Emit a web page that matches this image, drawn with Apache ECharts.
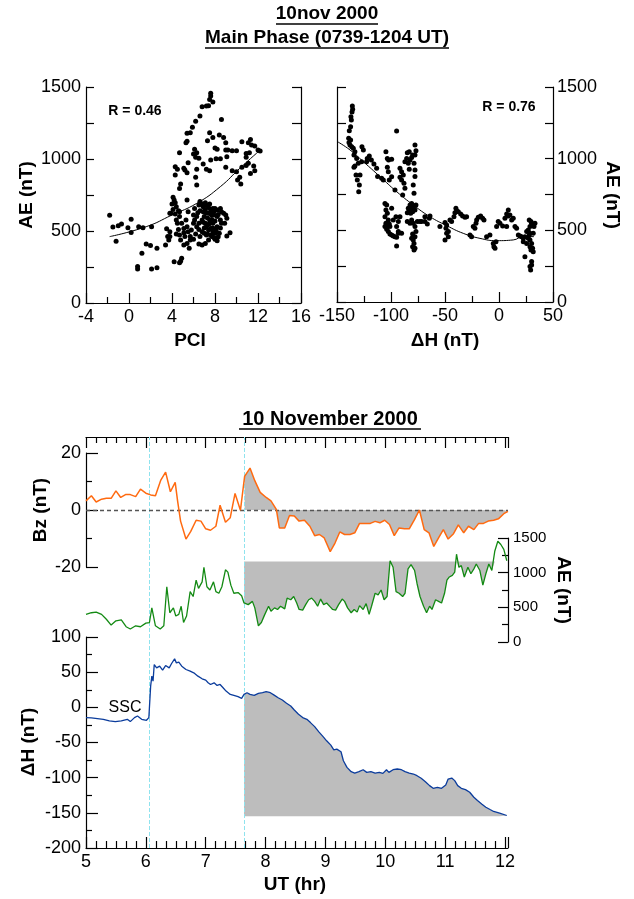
<!DOCTYPE html>
<html>
<head>
<meta charset="utf-8">
<script src="https://cdn.jsdelivr.net/npm/echarts@6/dist/echarts.min.js"></script>
<style>
  html, body { margin: 0; padding: 0; background: #fff; }
  #main { width: 634px; height: 899px; }
</style>
</head>
<body>
<div id="main"></div>
<script>
// AE vs PCI, main phase (PCI, AE nT)
var pciAE = [
  [-1.8,609],[-1.5,528],[-1.2,428],[-1.0,537],[-0.7,549],[-0.1,523],[0.2,581],[0.2,489],[0.9,530],[1.3,523],
  [2.1,530],[1.6,410],[2.0,400],[1.2,345],[2.6,380],[0.8,253],[0.8,236],[2.1,236],[2.6,245],[3.6,461],
  [3.5,516],[3.8,623],[4.2,287],[4.7,280],[4.9,310],[4.8,290],
  [7.6,1456],[7.6,1437],[7.8,1396],[7.5,1414],[7.2,1368],[7.4,1370],[6.8,1363],[6.6,1299],[6.2,1262],[5.9,1220],
  [5.7,1183],[5.4,1178],[5.3,1113],[5.4,1123],[4.7,1044],[4.3,947],[4.3,889],[4.5,928],[4.7,796],[4.8,826],
  [5.1,935],[5.2,924],[5.4,905],[5.5,974],[6.1,1067],[6.3,1044],[6.0,1035],[6.2,1012],[6.3,928],[6.2,873],
  [6.3,819],[6.5,1005],[6.9,965],[7.2,928],[7.5,919],[7.6,993],[7.3,1127],[7.5,1183],[7.8,1150],[8.0,1076],
  [8.2,1067],[8.1,1002],[8.5,1002],[8.6,1275],[8.4,1167],[8.8,1150],[9.0,1113],[9.0,1062],[9.1,1016],[9.2,1062],
  [9.6,1058],[10.0,1058],[9.0,942],[9.6,919],[10.0,912],[10.3,873],[10.4,826],[10.1,854],[10.5,942],[10.9,954],
  [11.1,970],[10.9,1012],[11.2,1044],[11.3,1136],[11.4,1097],[11.1,1113],[11.7,1090],[12.0,1062],[12.2,1055],[11.6,951],
  [11.3,900],[11.7,919],[10.9,1039],[10.5,1120],
  [4.1,734],[4.2,715],[4.0,687],[4.3,697],[4.4,669],[4.1,650],[4.6,641],[4.3,618],[3.9,623],[4.4,576],
  [4.5,553],[4.7,600],[4.9,553],[4.6,511],[4.4,479],[4.7,472],[5.1,488],[5.2,461],[4.8,437],[5.4,414],
  [5.6,380],[5.1,403],[5.7,461],[5.8,507],[5.4,530],[5.3,576],[5.5,634],[6.0,611],[6.1,657],[6.5,680],
  [6.6,704],[6.8,687],[6.9,669],[7.1,697],[7.2,680],[7.4,664],[7.5,687],[7.6,646],[7.8,657],[8.0,657],
  [8.2,646],[8.5,657],[8.6,634],[8.8,623],[9.0,611],[9.1,588],[8.9,553],[8.6,553],[8.5,576],[8.2,600],
  [7.9,611],[7.7,611],[7.4,623],[7.2,627],[6.9,634],[6.6,641],[6.4,627],[6.3,600],[6.1,576],[6.0,553],
  [6.3,530],[6.5,511],[6.8,495],[7.0,484],[7.2,472],[7.4,507],[7.6,518],[7.8,495],[8.0,484],[8.0,442],
  [8.2,433],[7.7,461],[7.4,437],[7.1,414],[6.8,403],[6.5,410],[6.6,461],[6.2,479],[6.0,442],[5.7,437],
  [5.5,495],[5.1,518],[4.7,634],[7.8,553],[8.2,530],[8.4,484],[7.5,576],[7.1,553],[6.8,576],[7.2,530],
  [7.5,553],[9.1,465],[9.4,488],[6.5,553],[5.4,715],[3.8,461],[3.7,437],[3.4,403],[3.8,495],
  [7.0,600],[7.3,590],[7.7,580],[8.0,570],[7.1,650],[7.6,620],[7.9,635],[8.3,615],[6.9,560],[7.4,545],
  [7.8,520],[8.1,505],[7.0,520],[7.3,480],[7.6,470],[7.9,455],[8.3,460],[8.5,520]
];
var pciFit = [[-1.8,461],[1.6,530],[4.0,611],[6.3,692],[8.5,808],[10.3,935],[12.2,1062]];

// AE vs dH, main phase (dH nT, AE nT)
var dhAE = [
  [-135.8,1368],[-135.5,1344],[-136.1,1326],[-137.1,1293],[-136.7,1270],[-137.4,1223],[-138.6,1195],[-139.2,1142],[-138.9,1112],[-137.4,1130],
  [-138.0,1095],[-136.4,1084],[-134.9,1072],[-133.4,1049],[-134.3,1026],[-131.8,1002],[-126.9,1084],[-125.6,1061],[-122.0,1002],[-120.1,1019],
  [-118.2,991],[-122.6,979],[-115.8,963],[-133.4,949],[-134.3,940],[-130.3,968],[-127.2,979],[-132.4,886],[-128.7,886],[-131.2,851],
  [-129.3,816],[-129.9,770],[-113.3,933],[-112.4,875],[-108.7,863],[-107.1,851],[-104.7,1049],[-103.4,1002],[-102.2,991],[-99.4,996],
  [-103.4,940],[-102.5,909],[-101.6,851],[-99.4,874],[-94.8,1193],[-96.3,782],[-91.7,933],[-90.2,909],[-88.6,886],[-91.7,870],
  [-90.2,851],[-88.0,828],[-87.1,793],[-89.2,747],[-87.1,979],[-85.5,1002],[-84.9,1042],[-83.1,1049],[-84.0,968],[-82.4,991],
  [-80.9,1009],[-80.0,1026],[-83.1,926],[-77.8,1096],[-76.9,1056],[-77.8,1026],[-78.7,968],[-77.8,921],[-77.8,875],[-79.4,816],
  [-78.7,758],[-76.9,677],
  [-82.4,677],[-80.9,665],[-84.0,654],[-79.4,654],[-83.1,637],[-80.0,630],[-81.8,619],[-84.9,623],[-77.8,642],[-80.9,688],
  [-81.5,645],[-79.0,670],
  [-80.9,572],[-79.4,549],[-77.8,526],[-76.9,491],[-80.0,475],[-77.8,456],[-79.4,433],[-78.7,409],[-80.0,386],[-77.8,375],
  [-78.7,363],[-80.9,444],[-82.4,549],[-84.9,561],[-75.6,561],[-73.2,561],[-71.6,561],
  [-105.6,688],[-104.0,677],[-104.7,642],[-103.4,619],[-105.6,595],[-102.5,572],[-104.7,549],[-103.4,537],[-101.6,544],[-105.6,526],
  [-104.0,507],[-102.5,491],[-101.0,475],[-99.4,468],[-97.9,461],[-96.3,456],[-94.8,451],[-93.2,479],[-94.8,526],[-95.4,595],
  [-93.2,491],[-99.4,654],[-93.2,561],[-91.7,595],[-90.2,479],[-94.8,391],[-101.0,526],[-97.9,572],
  [-68.6,595],[-64.5,584],[-63.9,600],[-66.4,544],[-68.6,561],[-54.7,526],[-50.0,554],[-48.5,537],[-49.1,514],[-46.9,456],
  [-50.0,433],[-45.4,572],[-43.9,561],[-41.7,595],[-40.8,623],[-39.2,637],[-39.9,654],[-37.7,630],[-35.5,614],[-33.7,600],
  [-31.5,591],[-30.0,595],[-46.9,491],[-48.5,479],
  [-26.9,468],[-25.4,456],[-23.8,526],[-22.3,514],[-21.3,549],[-20.7,572],[-19.2,591],[-17.0,600],[-15.2,584],[-13.9,572],
  [-11.5,456],[-8.4,468],[-5.3,409],[-4.7,386],[-3.7,375],[-2.8,421],[-2.2,526],[-0.7,561],[0.9,549],[3.4,530],
  [5.5,584],[7.1,614],[8.6,642],[10.1,607],[11.7,572],[13.2,584],[8.6,600],[7.1,526],[14.8,526],[16.3,514],
  [17.9,468],[19.4,461],[20.9,456],[22.5,444],[24.0,456],[25.6,491],[27.1,502],[28.7,526],[30.2,549],[31.7,537],
  [28.0,572],[29.6,561],[32.4,526],[28.7,479],[27.1,444],[28.7,433],[30.2,409],[31.1,375],[29.6,363],[31.7,351],
  [30.2,282],[30.2,258],[28.7,247],[29.3,223],[24.0,316],[25.6,409],[22.5,421],[28.7,386],[28.0,468],[31.7,479],
  [33.3,549]
];
var dhFit = [[-149.7,1119],[-138,1061],[-125.6,979],[-110.2,875],[-94.8,770],[-79.4,677],[-63.9,595],[-48.5,533],
  [-33.1,479],[-17.6,444],[-2.2,428],[13.2,433],[22.5,456],[32.4,456]];

// 10 November 2000 time series (UT hr, value)
var bz = [
  [5.00,3.2],[5.09,5.0],[5.17,2.8],[5.26,3.8],[5.34,4.1],[5.42,4.1],[5.50,6.7],[5.58,4.4],[5.66,5.4],[5.74,5.4],
  [5.83,4.7],[5.91,7.3],[6.00,5.9],[6.08,5.3],[6.16,5.0],[6.25,10.5],[6.33,13.3],[6.41,6.4],[6.49,9.7],[6.53,3.2],
  [6.58,-3.9],[6.67,-10.2],[6.75,-7.5],[6.84,-3.6],[6.92,-3.9],[7.00,-6.6],[7.08,-7.1],[7.17,-5.7],[7.24,1.7],[7.33,-4.3],
  [7.41,-2.7],[7.49,5.8],[7.58,-0.1],[7.65,11.8],[7.74,14.7],[7.82,10.3],[7.91,6.2],[8.01,4.4],[8.09,3.2],[8.18,0.2],
  [8.23,-6.3],[8.32,-6.3],[8.40,-1.9],[8.48,-2.1],[8.56,-3.9],[8.65,-3.6],[8.74,-5.7],[8.82,-9.0],[8.90,-8.6],[8.98,-9.8],
  [9.08,-14.6],[9.16,-11.6],[9.24,-7.7],[9.32,-8.6],[9.41,-8.6],[9.49,-8.0],[9.57,-4.7],[9.66,-4.7],[9.75,-4.7],[9.83,-4.0],
  [9.91,-4.5],[9.99,-3.6],[10.07,-5.1],[10.15,-9.0],[10.23,-6.3],[10.32,-6.6],[10.40,-6.6],[10.49,-3.3],[10.57,0.0],[10.65,-6.9],
  [10.73,-8.0],[10.81,-12.8],[10.89,-9.8],[10.97,-6.9],[11.05,-10.2],[11.14,-8.3],[11.22,-5.2],[11.31,-8.0],[11.39,-5.7],[11.48,-6.9],
  [11.56,-4.7],[11.64,-4.7],[11.72,-3.9],[11.81,-3.6],[11.89,-3.1],[11.98,-1.3],[12.05,-0.5]
];
var ae = [
  [5.00,398],[5.09,422],[5.17,431],[5.26,398],[5.34,328],[5.42,244],[5.50,305],[5.59,319],[5.67,220],[5.74,188],
  [5.83,234],[5.91,220],[6.00,272],[6.06,281],[6.10,492],[6.16,234],[6.24,188],[6.30,234],[6.35,797],[6.40,422],
  [6.46,492],[6.50,375],[6.55,398],[6.59,516],[6.63,281],[6.68,375],[6.74,727],[6.79,656],[6.84,891],[6.88,773],
  [6.94,867],[6.97,1078],[7.02,797],[7.07,750],[7.13,867],[7.17,727],[7.22,703],[7.27,797],[7.33,1041],[7.37,1008],
  [7.42,820],[7.47,703],[7.54,713],[7.60,666],[7.64,563],[7.71,539],[7.78,586],[7.82,492],[7.88,234],[7.93,281],
  [7.98,384],[8.05,516],[8.09,445],[8.15,492],[8.20,469],[8.25,516],[8.32,478],[8.36,633],[8.42,609],[8.47,656],
  [8.52,563],[8.56,469],[8.62,459],[8.67,539],[8.72,609],[8.77,633],[8.82,586],[8.87,516],[8.92,619],[8.97,539],
  [9.02,563],[9.08,506],[9.12,469],[9.17,459],[9.22,539],[9.28,619],[9.32,586],[9.37,492],[9.43,422],[9.48,469],
  [9.53,431],[9.57,525],[9.63,469],[9.68,553],[9.73,398],[9.77,516],[9.83,703],[9.88,680],[9.93,750],[9.98,609],
  [10.03,656],[10.08,1172],[10.13,1078],[10.18,727],[10.23,703],[10.29,656],[10.33,703],[10.38,1055],[10.43,1116],[10.49,1031],
  [10.53,844],[10.58,656],[10.64,516],[10.69,422],[10.74,516],[10.78,469],[10.84,609],[10.89,586],[10.94,563],[10.99,703],
  [11.03,891],[11.07,938],[11.12,961],[11.16,1008],[11.19,1266],[11.23,1078],[11.27,1102],[11.32,938],[11.38,1078],[11.43,984],
  [11.48,1055],[11.52,1125],[11.58,1031],[11.63,820],[11.68,984],[11.73,1125],[11.78,1031],[11.83,1313],[11.88,1453],[11.93,1406],
  [11.98,1336],[12.03,1172]
];
var dH = [
  [5.00,-14.6],[5.09,-15.1],[5.19,-16.0],[5.29,-17.0],[5.39,-19.3],[5.49,-20.3],[5.59,-19.3],[5.69,-17.0],[5.74,-20.3],[5.81,-14.6],
  [5.86,-12.3],[5.93,-17.0],[6.01,-18.4],[6.05,-14.6],[6.08,30.2],[6.10,44.3],[6.12,37.3],[6.14,60.8],[6.18,56.1],[6.23,58.5],
  [6.28,52.8],[6.33,59.4],[6.39,56.1],[6.43,62.3],[6.48,68.9],[6.51,63.2],[6.55,64.2],[6.60,58.5],[6.67,53.8],[6.74,51.4],
  [6.80,49.1],[6.87,44.3],[6.94,40.6],[7.00,38.7],[7.04,34.9],[7.08,32.5],[7.14,34.9],[7.19,31.1],[7.24,32.5],[7.29,27.8],
  [7.34,23.1],[7.41,18.4],[7.47,17.0],[7.54,15.1],[7.60,12.7],[7.64,18.4],[7.69,20.8],[7.74,18.4],[7.81,17.0],[7.88,19.8],
  [7.95,20.8],[8.01,22.2],[8.08,20.8],[8.15,17.0],[8.21,13.7],[8.28,10.4],[8.35,5.7],[8.42,1.9],[8.48,-3.8],[8.55,-9.9],
  [8.62,-14.6],[8.69,-17.0],[8.75,-21.7],[8.82,-27.4],[8.89,-34.9],[8.95,-40.6],[9.02,-47.6],[9.09,-53.8],[9.14,-60.4],[9.19,-59.4],
  [9.26,-63.2],[9.30,-75.9],[9.36,-85.4],[9.43,-91.5],[9.49,-93.4],[9.56,-91.5],[9.63,-88.7],[9.69,-92.5],[9.76,-91.5],[9.83,-93.4],
  [9.90,-92.5],[9.96,-93.9],[10.02,-88.7],[10.06,-92.5],[10.13,-88.7],[10.20,-87.7],[10.27,-88.7],[10.33,-91.5],[10.40,-93.4],[10.47,-94.8],
  [10.53,-97.2],[10.60,-100.9],[10.67,-105.7],[10.74,-111.3],[10.80,-115.1],[10.87,-113.7],[10.94,-115.1],[11.01,-110.4],[11.05,-101.9],[11.11,-100.5],
  [11.16,-104.2],[11.21,-111.3],[11.27,-115.1],[11.34,-117.0],[11.41,-120.8],[11.48,-127.8],[11.54,-132.5],[11.61,-137.3],[11.68,-142.0],[11.75,-145.3],
  [11.81,-148.1],[11.91,-150.5],[12.03,-153.8]
];
var sscTime = 6.06;      // SSC
var mainStart = 7.64;    // 0739 UT, start of main phase
var aeCeil = 1160;       // upper edge of AE shading
var dhFloor = -155;      // lower edge of dH shading

var FONT = '"Liberation Sans", Arial, sans-serif';
var GREY = '#bdbdbd';

function after (arr) { return arr.filter(function (p) { return p[0] >= mainStart; }); }
var aeShade = after(ae).map(function (p) { return [p[0], Math.min(p[1], aeCeil)]; });

function plain (v) { return String(v); }
function tick (len) { return { show: true, inside: true, length: len, lineStyle: { color: '#000', width: 1.2 } }; }
function minor (n, len) { return { show: true, splitNumber: n, length: len, lineStyle: { color: '#000', width: 1.2 } }; }

function valAxis (o) {
  var base = {
    type: 'value',
    splitLine: { show: false },
    axisLine: { show: true, onZero: false, lineStyle: { color: '#000', width: 1.2 } },
    axisTick: tick(10),
    minorTick: minor(2, 6),
    axisLabel: { show: true, color: '#000', fontSize: 18, fontFamily: FONT, margin: 5, formatter: plain }
  };
  for (var k in o) base[k] = o[k];
  return base;
}
var noLabel = { show: false };

function txt (x, y, s, font, rot) {
  return { type: 'text', x: x, y: y, rotation: rot || 0,
    style: { text: s, font: font, fill: '#000', textAlign: 'center', textVerticalAlign: 'middle', align: 'center', verticalAlign: 'middle' } };
}
function uline (x1, x2, y) {
  return { type: 'line', shape: { x1: x1, y1: y, x2: x2, y2: y }, style: { stroke: '#000', lineWidth: 1.5 } };
}

var chart = echarts.init(document.getElementById('main'));
var option = {
  animation: false,
  backgroundColor: '#fff',
  grid: [
    { left: 86, top: 87, width: 215, height: 216 },
    { left: 337, top: 87, width: 216, height: 215 },
    { left: 86, top: 437, width: 422, height: 411 },
    { left: 86, top: 453, width: 422, height: 114 },
    { left: 86, top: 538, width: 422, height: 104 },
    { left: 86, top: 637, width: 422, height: 211 }
  ],
  xAxis: [
    valAxis({ gridIndex: 0, min: -4, max: 16, interval: 4 }),
    valAxis({ gridIndex: 1, min: -150, max: 50, interval: 50 }),
    valAxis({ gridIndex: 2, min: 5, max: 12.05, interval: 1, position: 'top', axisLabel: noLabel,
      axisTick: tick(11), minorTick: minor(6, 6) }),
    valAxis({ gridIndex: 3, min: 5, max: 12.05, show: false }),
    valAxis({ gridIndex: 4, min: 5, max: 12.05, show: false }),
    valAxis({ gridIndex: 5, min: 5, max: 12.05, interval: 1, axisTick: tick(11), minorTick: minor(6, 7) })
  ],
  yAxis: [
    valAxis({ gridIndex: 0, min: 0, max: 1500, interval: 500, axisTick: tick(8), minorTick: minor(2, 8) }),
    valAxis({ gridIndex: 0, min: 0, max: 1500, interval: 500, position: 'right', axisLabel: noLabel,
      axisTick: tick(9), minorTick: minor(2, 9) }),
    valAxis({ gridIndex: 1, min: 0, max: 1500, interval: 500, axisLabel: noLabel,
      axisTick: tick(9), minorTick: minor(2, 9) }),
    valAxis({ gridIndex: 1, min: 0, max: 1500, interval: 500, position: 'right', axisTick: tick(8), minorTick: minor(2, 8),
      axisLabel: { color: '#000', fontSize: 18, fontFamily: FONT, margin: 4, formatter: plain } }),
    valAxis({ gridIndex: 2, min: 0, max: 1, show: false }),
    valAxis({ gridIndex: 3, min: -20, max: 20, interval: 20, axisTick: tick(12) }),
    valAxis({ gridIndex: 4, min: 0, max: 1500, interval: 500, position: 'right',
      axisLabel: { color: '#000', fontSize: 15, fontFamily: FONT, margin: 5, formatter: plain } }),
    valAxis({ gridIndex: 5, min: -200, max: 100, interval: 50, axisTick: tick(12) })
  ],
  series: [
    { type: 'scatter', xAxisIndex: 0, yAxisIndex: 0, data: pciAE, symbolSize: 5, itemStyle: { color: '#000', opacity: 1 }, z: 3 },
    { type: 'line', xAxisIndex: 0, yAxisIndex: 0, data: pciFit, smooth: true, symbol: 'none', lineStyle: { color: '#000', width: 1 }, z: 4 },
    { type: 'scatter', xAxisIndex: 1, yAxisIndex: 2, data: dhAE, symbolSize: 5, itemStyle: { color: '#000', opacity: 1 }, z: 3 },
    { type: 'line', xAxisIndex: 1, yAxisIndex: 2, data: dhFit, smooth: true, symbol: 'none', lineStyle: { color: '#000', width: 1 }, z: 4 },
    // event markers across the whole lower panel
    { type: 'line', xAxisIndex: 2, yAxisIndex: 4, data: [], silent: true,
      markLine: { symbol: ['none', 'none'], silent: true, label: { show: false },
        lineStyle: { color: '#8fe3ee', type: 'dashed', width: 1 },
        data: [{ xAxis: sscTime }, { xAxis: mainStart + 0.01 }] } },
    // shaded areas
    { type: 'line', xAxisIndex: 3, yAxisIndex: 5, data: after(bz), symbol: 'none', lineStyle: { width: 0 },
      areaStyle: { color: GREY, opacity: 1, origin: 0 }, z: 1 },
    { type: 'line', xAxisIndex: 4, yAxisIndex: 6, data: aeShade, symbol: 'none', lineStyle: { width: 0 },
      areaStyle: { color: GREY, opacity: 1, origin: aeCeil }, z: 1 },
    { type: 'line', xAxisIndex: 5, yAxisIndex: 7, data: after(dH), symbol: 'none', lineStyle: { width: 0 },
      areaStyle: { color: GREY, opacity: 1, origin: dhFloor }, z: 1 },
    // curves
    { type: 'line', xAxisIndex: 3, yAxisIndex: 5, data: bz, symbol: 'none', lineStyle: { color: '#ff6a10', width: 1.5 }, z: 5,
      markLine: { symbol: ['none', 'none'], silent: true, label: { show: false },
        lineStyle: { color: '#555', type: [4, 3], width: 1.3 }, data: [{ yAxis: 0 }] } },
    { type: 'line', xAxisIndex: 4, yAxisIndex: 6, data: ae, symbol: 'none', lineStyle: { color: '#138a13', width: 1.3 }, z: 5 },
    { type: 'line', xAxisIndex: 5, yAxisIndex: 7, data: dH, symbol: 'none', lineStyle: { color: '#0b3c9c', width: 1.3 }, z: 5 }
  ],
  graphic: [
    txt(327, 14, '10nov 2000', 'bold 19px ' + FONT),
    uline(276, 378, 24),
    txt(327, 38, 'Main Phase (0739-1204 UT)', 'bold 19px ' + FONT),
    uline(205, 449, 48),
    txt(135, 111, 'R = 0.46', 'bold 14px ' + FONT),
    txt(509, 107, 'R = 0.76', 'bold 14px ' + FONT),
    txt(27, 195, 'AE (nT)', 'bold 19px ' + FONT, Math.PI / 2),
    txt(190, 341, 'PCI', 'bold 19px ' + FONT),
    txt(445, 341, 'ΔH (nT)', 'bold 19px ' + FONT),
    txt(612, 195, 'AE (nT)', 'bold 19px ' + FONT, -Math.PI / 2),
    txt(330, 419, '10 November 2000', 'bold 20px ' + FONT),
    uline(239, 421, 429),
    txt(41, 510, 'Bz (nT)', 'bold 19px ' + FONT, Math.PI / 2),
    txt(563, 590, 'AE (nT)', 'bold 19px ' + FONT, -Math.PI / 2),
    txt(29, 742, 'ΔH (nT)', 'bold 19px ' + FONT, Math.PI / 2),
    txt(295, 885, 'UT (hr)', 'bold 19px ' + FONT),
    txt(125, 708, 'SSC', '16px ' + FONT)
  ]
};
chart.setOption(option);
</script>
</body>
</html>
